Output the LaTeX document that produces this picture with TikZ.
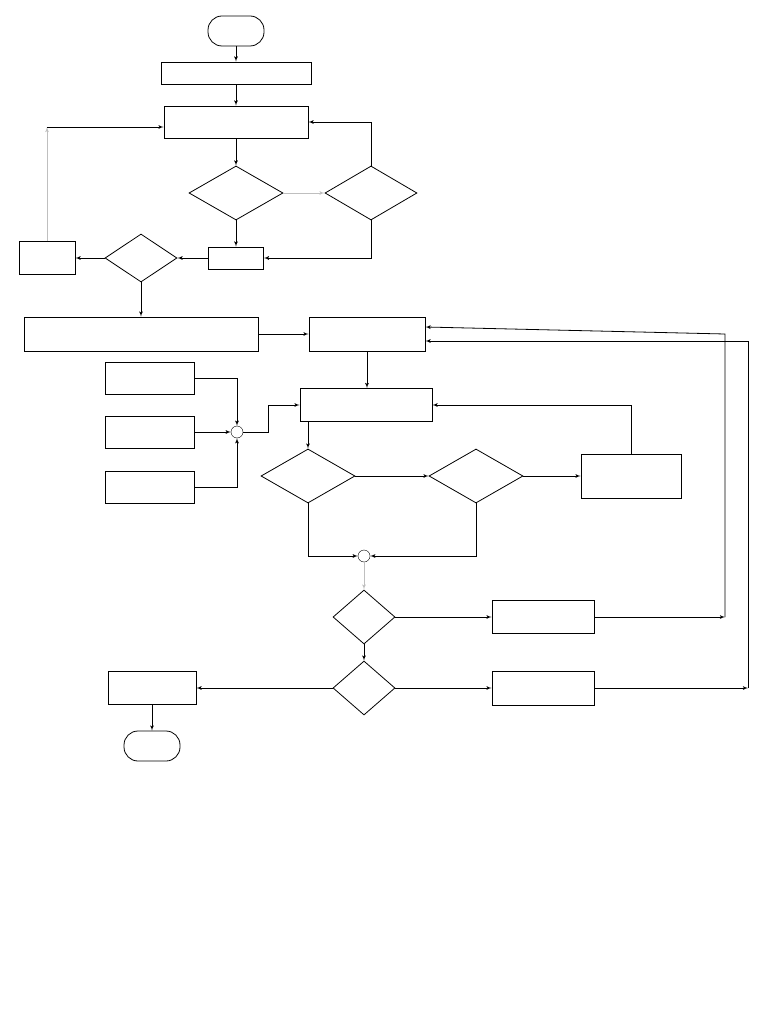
\documentclass[tikz,border=0pt]{standalone}
\usepackage{tikz}
\usetikzlibrary{shapes,shapes.geometric,arrows}
\begin{document}
\begin{tikzpicture}[x=1pt,y=-1pt]
	\tikzstyle{common} = [draw, thick, inner sep=0]
	\tikzstyle{decision} = [diamond, common, minimum width=94pt, minimum height=54pt]
	\tikzstyle{smalldec} = [decision, minimum width=62pt]
	\tikzstyle{block} = [rectangle, common, minimum height=33pt]
	\tikzstyle{term} = [rectangle, rounded corners=14pt, common, minimum width=56pt, minimum height=30pt]
	\tikzstyle{io} = [trapezium, common, trapezium stretches body, trapezium left angle=60, trapezium right angle=120, minimum height=33pt]
	\tikzstyle{merge} = [circle, common, thin, minimum size=12pt]
	\tikzstyle{line} = [draw, thick, -latex']
	\tikzstyle{grayline} = [line, gray!50]
	\useasboundingbox (0,0) rectangle (768,1024);

	\node[term] (start) at (236,31) {};
	\node[io, minimum width=150pt, minimum height=22pt, trapezium left angle=40, trapezium right angle=140] (input) at (236,73) {};
	\node[block, minimum width=144pt, minimum height=32pt] (init) at (236,122) {};
	\node[decision] (test1) at (236,193) {};
	\node[decision, minimum width=92pt] (test2) at (371,193) {};
	\node[block, minimum width=55pt, minimum height=22pt] (step) at (236,258) {};
	\node[decision, minimum width=72pt, minimum height=48pt] (test3) at (141,258) {};
	\node[block, minimum width=56pt] (back) at (47,258) {};
	\node[block, minimum width=234pt, minimum height=34pt] (wide) at (141,334) {};
	\node[block, minimum width=116pt, minimum height=34pt] (main) at (367,334) {};
	\node[block, minimum width=89pt, minimum height=32pt] (in1) at (150,378) {};
	\node[block, minimum width=89pt, minimum height=32pt] (in2) at (150,432) {};
	\node[block, minimum width=89pt, minimum height=32pt] (in3) at (150,487) {};
	\node[merge] (merge1) at (237,432) {};
	\node[block, minimum width=132pt] (calc) at (366,405) {};
	\node[decision] (test4) at (308,476) {};
	\node[decision] (test5) at (476,476) {};
	\node[block, minimum width=100pt, minimum height=44pt] (fix) at (631,476) {};
	\node[merge] (merge2) at (364,556) {};
	\node[smalldec] (test6) at (364,617) {};
	\node[block, minimum width=102pt] (upd1) at (543,617) {};
	\node[smalldec] (test7) at (364,688) {};
	\node[block, minimum width=102pt, minimum height=34pt] (upd2) at (543,688) {};
	\node[io, minimum width=88pt] (output) at (152,688) {};
	\node[term] (stop) at (152,746) {};

	\coordinate (r1) at (725,617);
	\coordinate (r2) at (748,688);
	\coordinate (j1) at (268,432);

	\draw[line] (start) -- (input);
	\draw[line] (input) -- (init);
	\draw[line] (init) -- (test1);
	\draw[grayline] (test1) -- (test2);
	\draw[line] (test2.north) |- (init.east);
	\draw[line] (test2.south) |- (step.east);
	\draw[line] (test1) -- (step);
	\draw[line] (step) -- (test3);
	\draw[line] (test3) -- (back);
	\draw[grayline] (back.north) -- ([yshift=-5pt]back.north |- init.west);
	\draw[line] ([yshift=-5pt]back.north |- init.west) -- ([yshift=-5pt]init.west);
	\draw[line] (test3) -- (test3 |- wide.north);
	\draw[line] (wide) -- (main);
	\draw[line] (main.south) -- (main.south |- calc.north);
	\draw[line] (in1) -| (merge1);
	\draw[line] (in2) -- (merge1);
	\draw[line] (in3) -| (merge1);
	\draw[line] (merge1) -- (j1) |- (calc.west);
	\draw[line] (calc.south -| test4.north) -- (test4.north);
	\draw[line] (test4) -- (test5);
	\draw[line] (test5) -- (fix);
	\draw[line] (fix.north) |- (calc.east);
	\draw[line] (test4.south) |- (merge2);
	\draw[line] (test5.south) |- (merge2);
	\draw[grayline] (merge2) -- (test6);
	\draw[line] (test6) -- (upd1);
	\draw[line] (test6) -- (test7);
	\draw[line] (test7) -- (upd2);
	\draw[line] (test7) -- (output);
	\draw[line] (output) -- (stop);
	\draw[line] (upd1) -- (r1);
	\draw[line] (r1) -- (r1 |- main.east) -- ([yshift=7pt]main.east);
	\draw[line] (upd2) -- (r2);
	\draw[line] (r2) -- ([yshift=-7pt]r2 |- main.east) -- ([yshift=-7pt]main.east);
\end{tikzpicture}
\end{document}
